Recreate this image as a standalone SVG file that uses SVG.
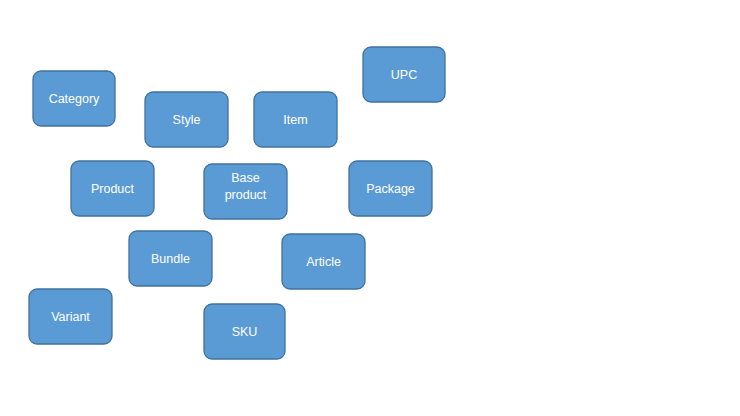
<svg xmlns="http://www.w3.org/2000/svg" width="740" height="416" viewBox="0 0 740 416">
<style>
.n rect{fill:#5B9BD5;stroke:#41719C;stroke-width:1.3}
.n text{fill:#fff;font-family:"Liberation Sans","Open Sans",sans-serif;font-size:12.5px;text-anchor:middle;dominant-baseline:central}
</style>
<rect width="740" height="416" fill="#fff"/>
<g id="connectors"/>
<g id="category" class="n"><rect x="33" y="71" width="82" height="55" rx="8"/><text x="74" y="99">Category</text></g>
<g id="style" class="n"><rect x="145" y="92" width="83" height="55" rx="8"/><text x="186.5" y="119.5">Style</text></g>
<g id="item" class="n"><rect x="254" y="92" width="83" height="55" rx="8"/><text x="295.5" y="119.5">Item</text></g>
<g id="upc" class="n"><rect x="363" y="47" width="82" height="55" rx="8"/><text x="404" y="75">UPC</text></g>
<g id="product" class="n"><rect x="71" y="161" width="83" height="55" rx="8"/><text x="112.5" y="188.5">Product</text></g>
<g id="baseproduct" class="n"><rect x="204" y="164" width="83" height="55" rx="8"/><text x="245.5" y="178">Base</text><text x="245.5" y="195">product</text></g>
<g id="package" class="n"><rect x="349" y="161" width="83" height="55" rx="8"/><text x="390.5" y="188.5">Package</text></g>
<g id="bundle" class="n"><rect x="129" y="231" width="83" height="55" rx="8"/><text x="170.5" y="258.5">Bundle</text></g>
<g id="article" class="n"><rect x="282" y="234" width="83" height="55" rx="8"/><text x="323.5" y="261.5">Article</text></g>
<g id="variant" class="n"><rect x="29" y="289" width="83" height="55" rx="8"/><text x="70.5" y="316.5">Variant</text></g>
<g id="sku" class="n"><rect x="204" y="304" width="81" height="55" rx="8"/><text x="244.5" y="331.5">SKU</text></g>
</svg>
